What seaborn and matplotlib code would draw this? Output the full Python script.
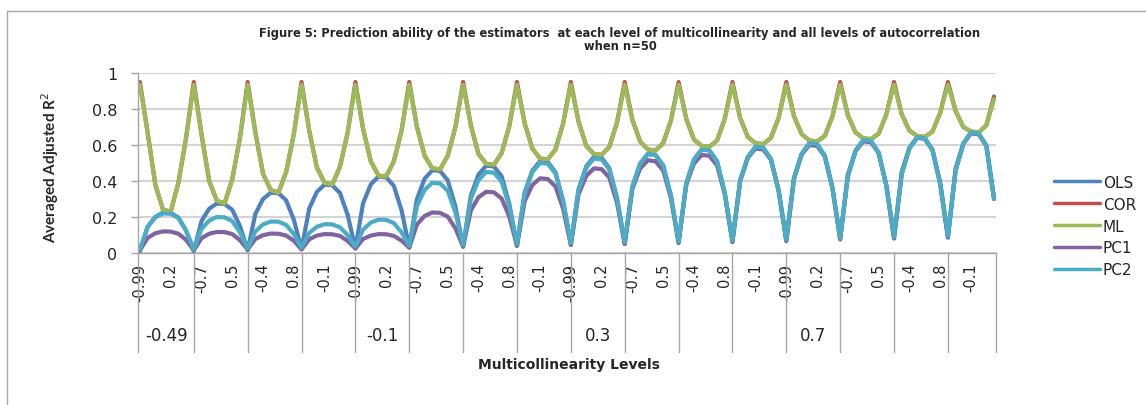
import pandas as pd
import seaborn as sns
import matplotlib.pyplot as plt
from matplotlib.patches import Rectangle

# autocorrelation levels (inner axis level) and multicollinearity levels (outer level)
autocorr = [-0.99, -0.7, -0.4, -0.1, 0.2, 0.5, 0.8]
multicol = [-0.49, -0.4, -0.3, -0.2, -0.1, 0.0, 0.1, 0.2, 0.3, 0.4, 0.5, 0.6, 0.7, 0.8, 0.9, 0.99]

# averaged adjusted R2, one list of 7 autocorrelation values per multicollinearity level
ols = [
    [0.01, 0.145, 0.20, 0.225, 0.223, 0.197, 0.124],
    [0.01, 0.177, 0.246, 0.275, 0.272, 0.24, 0.15],
    [0.015, 0.217, 0.30, 0.335, 0.332, 0.293, 0.185],
    [0.02, 0.247, 0.34, 0.38, 0.376, 0.333, 0.211],
    [0.025, 0.277, 0.381, 0.425, 0.421, 0.373, 0.237],
    [0.03, 0.30, 0.413, 0.46, 0.456, 0.404, 0.258],
    [0.035, 0.319, 0.436, 0.485, 0.481, 0.427, 0.274],
    [0.04, 0.336, 0.458, 0.51, 0.505, 0.449, 0.289],
    [0.045, 0.354, 0.481, 0.535, 0.53, 0.471, 0.305],
    [0.05, 0.369, 0.496, 0.55, 0.545, 0.486, 0.32],
    [0.055, 0.386, 0.519, 0.575, 0.57, 0.509, 0.335],
    [0.06, 0.398, 0.533, 0.59, 0.585, 0.522, 0.346],
    [0.065, 0.412, 0.551, 0.61, 0.605, 0.54, 0.359],
    [0.075, 0.427, 0.568, 0.628, 0.623, 0.557, 0.373],
    [0.08, 0.438, 0.582, 0.643, 0.637, 0.571, 0.383],
    [0.085, 0.457, 0.607, 0.67, 0.664, 0.595, 0.30],
]
cor = [
    [0.95, 0.67, 0.38, 0.24, 0.23, 0.39, 0.64],
    [0.95, 0.66, 0.40, 0.29, 0.275, 0.41, 0.64],
    [0.95, 0.67, 0.44, 0.35, 0.335, 0.45, 0.66],
    [0.95, 0.68, 0.475, 0.39, 0.38, 0.48, 0.67],
    [0.95, 0.69, 0.51, 0.43, 0.425, 0.51, 0.68],
    [0.95, 0.70, 0.54, 0.47, 0.465, 0.54, 0.70],
    [0.95, 0.71, 0.55, 0.495, 0.49, 0.555, 0.705],
    [0.95, 0.72, 0.58, 0.525, 0.52, 0.575, 0.72],
    [0.95, 0.73, 0.595, 0.55, 0.545, 0.59, 0.725],
    [0.95, 0.74, 0.62, 0.575, 0.57, 0.61, 0.735],
    [0.95, 0.745, 0.63, 0.595, 0.59, 0.625, 0.745],
    [0.95, 0.75, 0.645, 0.61, 0.605, 0.64, 0.75],
    [0.95, 0.76, 0.66, 0.625, 0.62, 0.65, 0.76],
    [0.95, 0.765, 0.67, 0.637, 0.633, 0.663, 0.77],
    [0.95, 0.77, 0.68, 0.65, 0.645, 0.675, 0.78],
    [0.95, 0.79, 0.70, 0.675, 0.67, 0.71, 0.87],
]
ml = [
    [0.935, 0.67, 0.38, 0.24, 0.23, 0.39, 0.64],
    [0.935, 0.66, 0.40, 0.29, 0.275, 0.41, 0.64],
    [0.935, 0.67, 0.44, 0.35, 0.335, 0.45, 0.66],
    [0.935, 0.68, 0.475, 0.39, 0.38, 0.48, 0.67],
    [0.935, 0.69, 0.51, 0.43, 0.425, 0.51, 0.68],
    [0.935, 0.70, 0.54, 0.47, 0.465, 0.54, 0.70],
    [0.935, 0.71, 0.55, 0.495, 0.49, 0.555, 0.705],
    [0.935, 0.72, 0.58, 0.525, 0.52, 0.575, 0.72],
    [0.935, 0.73, 0.595, 0.55, 0.545, 0.59, 0.725],
    [0.935, 0.74, 0.62, 0.575, 0.57, 0.61, 0.735],
    [0.935, 0.745, 0.63, 0.595, 0.59, 0.625, 0.745],
    [0.935, 0.75, 0.645, 0.61, 0.605, 0.64, 0.75],
    [0.935, 0.76, 0.66, 0.625, 0.62, 0.65, 0.76],
    [0.935, 0.765, 0.67, 0.637, 0.633, 0.663, 0.77],
    [0.935, 0.77, 0.68, 0.65, 0.645, 0.675, 0.78],
    [0.935, 0.79, 0.70, 0.675, 0.67, 0.71, 0.855],
]
pc1 = [
    [0.015, 0.084, 0.11, 0.12, 0.119, 0.107, 0.073],
    [0.015, 0.082, 0.107, 0.117, 0.116, 0.105, 0.071],
    [0.02, 0.078, 0.099, 0.108, 0.107, 0.097, 0.068],
    [0.02, 0.076, 0.097, 0.105, 0.104, 0.095, 0.067],
    [0.025, 0.078, 0.097, 0.105, 0.104, 0.095, 0.069],
    [0.03, 0.159, 0.206, 0.225, 0.223, 0.202, 0.137],
    [0.035, 0.236, 0.31, 0.34, 0.337, 0.303, 0.203],
    [0.04, 0.288, 0.378, 0.415, 0.411, 0.37, 0.246],
    [0.045, 0.326, 0.428, 0.47, 0.466, 0.419, 0.279],
    [0.05, 0.357, 0.469, 0.515, 0.51, 0.459, 0.306],
    [0.06, 0.38, 0.497, 0.545, 0.54, 0.487, 0.327],
    [0.065, 0.405, 0.529, 0.58, 0.575, 0.518, 0.348],
    [0.07, 0.42, 0.547, 0.60, 0.595, 0.536, 0.362],
    [0.08, 0.436, 0.566, 0.62, 0.615, 0.555, 0.377],
    [0.085, 0.451, 0.585, 0.64, 0.634, 0.573, 0.39],
    [0.09, 0.47, 0.607, 0.665, 0.659, 0.596, 0.30],
]
pc2 = [
    [0.02, 0.146, 0.198, 0.22, 0.218, 0.194, 0.126],
    [0.02, 0.133, 0.18, 0.20, 0.198, 0.177, 0.115],
    [0.025, 0.12, 0.159, 0.175, 0.174, 0.156, 0.105],
    [0.03, 0.112, 0.146, 0.16, 0.159, 0.143, 0.099],
    [0.035, 0.13, 0.169, 0.185, 0.184, 0.166, 0.115],
    [0.04, 0.26, 0.351, 0.39, 0.387, 0.345, 0.225],
    [0.045, 0.30, 0.405, 0.45, 0.446, 0.397, 0.26],
    [0.05, 0.334, 0.45, 0.50, 0.496, 0.442, 0.289],
    [0.055, 0.351, 0.473, 0.525, 0.52, 0.464, 0.304],
    [0.06, 0.369, 0.496, 0.55, 0.545, 0.486, 0.32],
    [0.065, 0.386, 0.519, 0.575, 0.57, 0.509, 0.335],
    [0.07, 0.398, 0.533, 0.59, 0.585, 0.522, 0.346],
    [0.075, 0.412, 0.551, 0.61, 0.605, 0.54, 0.359],
    [0.085, 0.427, 0.568, 0.628, 0.623, 0.557, 0.373],
    [0.09, 0.438, 0.582, 0.643, 0.637, 0.571, 0.383],
    [0.095, 0.457, 0.607, 0.67, 0.664, 0.595, 0.30],
]

names = ['OLS', 'COR', 'ML', 'PC1', 'PC2']
colors = ['#4F81BD', '#C0504D', '#9BBB59', '#8064A2', '#4BACC6']

# long table: one row per (estimator, category position)
rows = []
for name, groups in zip(names, [ols, cor, ml, pc1, pc2]):
    for m, vals in enumerate(groups):
        for j, v in enumerate(vals):
            rows.append((name, m * len(autocorr) + j, v))
df = pd.DataFrame(rows, columns=['Estimator', 'pos', 'value'])

sns.set_theme(style='white')
plt.rcParams['font.family'] = ['DejaVu Sans']

W, H = 1146, 406
fig = plt.figure(figsize=(W / 100, H / 100), dpi=100)
ax = fig.add_axes([138 / W, 1 - 254 / H, (996 - 138) / W, 180 / H])

sns.lineplot(data=df, x='pos', y='value', hue='Estimator', hue_order=names,
             palette=colors, linewidth=3, estimator=None, sort=False, ax=ax)

n_cat = len(multicol) * len(autocorr)
ax.set_xlim(-0.25, n_cat - 0.75)
ax.set_ylim(0, 1)
ax.set_xlabel('')
ax.set_ylabel('')

ax.set_yticks([0, 0.2, 0.4, 0.6, 0.8, 1.0], ['0', '0.2', '0.4', '0.6', '0.8', '1'])
ax.yaxis.grid(True, color='#d4d4d4', linewidth=1.5)
ax.set_axisbelow(True)
ax.tick_params(axis='y', length=5, width=1, color='#a6a6a6', labelsize=11.5, pad=10, left=True)

# every 4th category gets a label, as the original axis did
tick_pos = list(range(0, n_cat, 4))
tick_lab = [f"{autocorr[p % len(autocorr)]:g}" for p in tick_pos]
ax.set_xticks(tick_pos, tick_lab, rotation=90)
ax.tick_params(axis='x', length=0, pad=7, labelsize=10.5)

for side in ['top', 'right']:
    ax.spines[side].set_visible(False)
for side in ['left', 'bottom']:
    ax.spines[side].set_color('#a6a6a6')
    ax.spines[side].set_linewidth(1)

# group dividers under the axis and the multicollinearity labels
tr = ax.get_xaxis_transform()
divs = [-0.25] + [m * len(autocorr) for m in range(1, len(multicol))] + [n_cat - 0.75]
for d in divs:
    ax.plot([d, d], [0, -0.55], transform=tr, color='#a6a6a6', lw=1, clip_on=False)
for m in range(0, len(multicol), 4):
    ax.text(m * len(autocorr) + 3.5, -0.455, f"{multicol[m]:g}", transform=tr,
            ha='center', va='center', fontsize=12)

handles, labels = ax.get_legend_handles_labels()
ax.get_legend().remove()
leg = fig.legend(handles, labels, loc='upper left', bbox_to_anchor=(1040 / W, 1 - 162 / H),
                 frameon=False, fontsize=11, handlelength=3.0, handletextpad=0.2,
                 labelspacing=0.45)
for h in leg.get_lines():
    h.set_linewidth(2.5)

fig.text(620 / W, 1 - 33 / H,
         'Figure 5: Prediction ability of the estimators  at each level of multicollinearity and all levels of autocorrelation',
         ha='center', va='center', fontsize=8.3, fontweight='bold')
fig.text(620 / W, 1 - 46 / H, 'when n=50', ha='center', va='center', fontsize=8.3, fontweight='bold')
fig.text(50 / W, 1 - 167 / H, 'Averaged Adjusted R$^2$', rotation=90, ha='center', va='center',
         fontsize=11, fontweight='bold', family=['Liberation Sans Narrow', 'Lato'])
fig.text(569 / W, 1 - 365 / H, 'Multicollinearity Levels', ha='center', va='center',
         fontsize=10, fontweight='bold')

# outer chart frame
fig.patches.append(Rectangle((7 / W, -0.1), 1.2, 1.1 - 12 / H, transform=fig.transFigure,
                             fill=False, edgecolor='#a6a6a6', lw=1))

fig.savefig('out.png', dpi=100)
